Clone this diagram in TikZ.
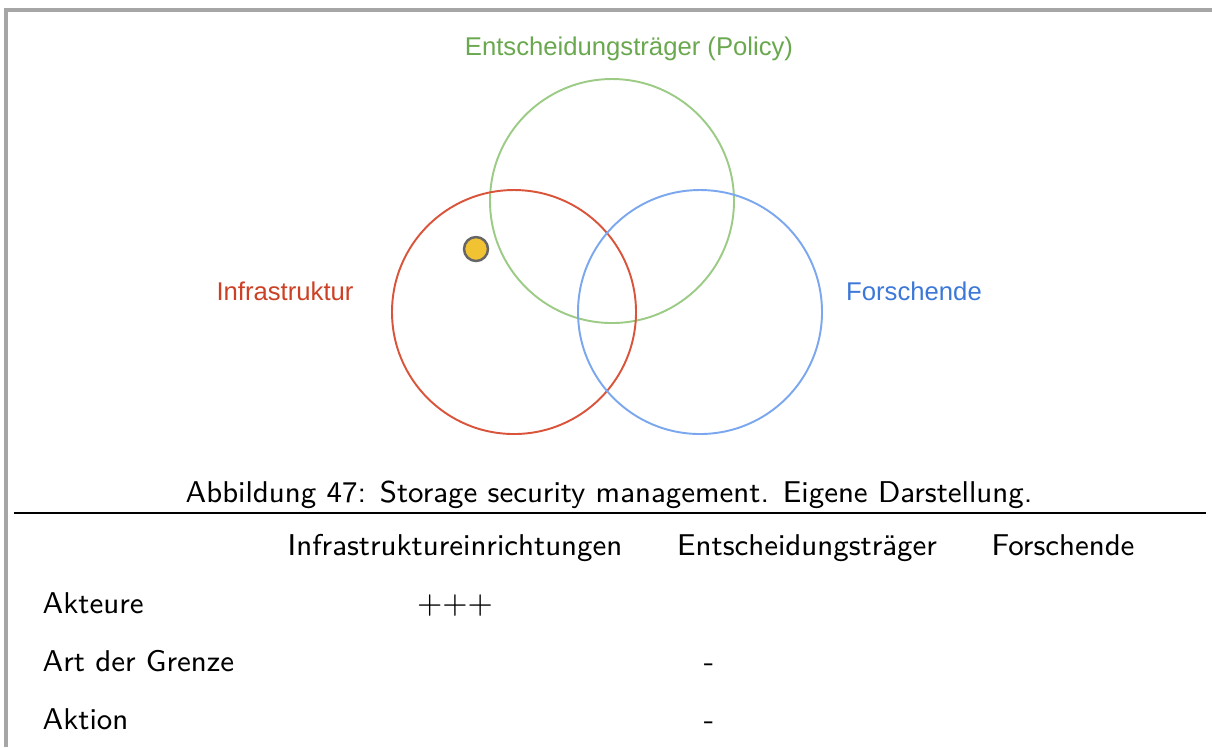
\documentclass[tikz,border=0pt]{standalone}
\usepackage{fontspec}
\newfontfamily\vennfont{Liberation Sans}
\definecolor{infrared}{HTML}{CC4125}
\definecolor{policygreen}{HTML}{6AA84F}
\definecolor{researchblue}{HTML}{3C78D8}
\definecolor{infraline}{HTML}{D9543A}
\definecolor{policyline}{HTML}{9CCB86}
\definecolor{researchline}{HTML}{7BA7EE}
\definecolor{dotyellow}{HTML}{F1C232}
\tikzset{
  venn/.style={line width=0.55pt},
  vennlabel/.style={font=\vennfont\fontsize{7.3}{9}\selectfont,anchor=base},
  tabtext/.style={font=\sffamily\fontsize{8.55}{10}\selectfont,anchor=base},
  rowhead/.style={tabtext,anchor=base west,inner sep=0pt}
}
\begin{document}
\begin{tikzpicture}[x=0.01cm,y=-0.01cm]
\useasboundingbox (0,0) rectangle (1212,747);
\draw[gray!70,line width=1pt] (6,747) -- (6,10) -- (1212,10);
\draw[venn,policyline] (612,201) circle[radius=122];
\draw[venn,infraline] (514,312) circle[radius=122];
\draw[venn,researchline] (700,312) circle[radius=122];
\draw[fill=dotyellow,draw=gray!80!black,line width=0.7pt] (476,249) circle[radius=12];
\node[vennlabel,text=policygreen] (policy) at (629,55) {Entscheidungsträger (Policy)};
\node[vennlabel,text=infrared] (infra) at (285,300) {Infrastruktur};
\node[vennlabel,text=researchblue] (research) at (914,300) {Forschende};
\node[tabtext] (caption) at (609,502) {Abbildung 47: Storage security management. Eigene Darstellung.};
\draw[line width=0.5pt] (14,513) -- (1206,513);
\node[tabtext] (colinfra) at (455,555) {Infrastruktureinrichtungen};
\node[tabtext] (colpolicy) at (807,555) {Entscheidungsträger};
\node[tabtext] (colresearch) at (1063,555) {Forschende};
\node[rowhead] (akteure) at (42,613) {Akteure};
\node[rowhead] (grenze) at (42,671) {Art der Grenze};
\node[rowhead] (aktion) at (42,729) {Aktion};
\node[tabtext] (plus) at (455,613) {${+}{+}{+}$};
\node[tabtext] (grenzeval) at (709,671) {-};
\node[tabtext] (aktionval) at (709,729) {-};
\end{tikzpicture}
\end{document}
